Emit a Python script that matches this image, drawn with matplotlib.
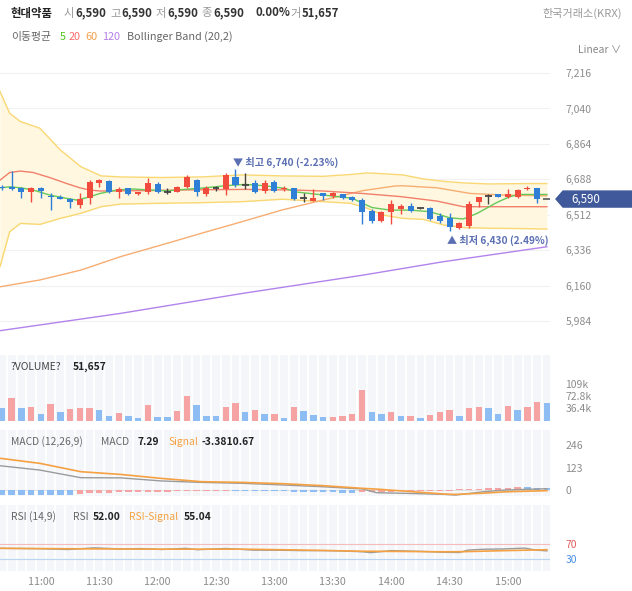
import matplotlib
matplotlib.use("Agg")
import matplotlib.pyplot as plt
import matplotlib.transforms as mtrans
from matplotlib.patches import Polygon
import numpy as np

plt.rcParams['font.family'] = ['Noto Sans CJK KR', 'DejaVu Sans']

W, H = 632, 591

# 5-minute candles, 10:40 ~ 15:20
opens  = [6650, 6651, 6643, 6623, 6643, 6606, 6600, 6589, 6560, 6594,
          6668, 6680, 6623, 6643, 6613, 6623, 6667, 6626, 6626, 6651,
          6684, 6613, 6646, 6640, 6701, 6660, 6668, 6631, 6676, 6640,
          6643, 6594, 6580, 6618, 6604, 6613, 6598, 6585, 6530, 6481,
          6524, 6540, 6557, 6544, 6547, 6507, 6497, 6448, 6457, 6574,
          6606, 6613, 6602, 6602, 6638, 6643, 6590]
highs  = [6660, 6729, 6648, 6648, 6648, 6618, 6612, 6595, 6618, 6683,
          6690, 6683, 6650, 6646, 6626, 6696, 6676, 6643, 6656, 6712,
          6690, 6656, 6656, 6717, 6740, 6720, 6684, 6684, 6684, 6656,
          6646, 6618, 6640, 6618, 6623, 6613, 6603, 6594, 6540, 6530,
          6585, 6564, 6569, 6547, 6552, 6519, 6519, 6478, 6580, 6602,
          6613, 6613, 6640, 6640, 6655, 6646, 6590]
lows   = [6635, 6635, 6594, 6577, 6594, 6535, 6588, 6545, 6545, 6564,
          6648, 6620, 6594, 6608, 6610, 6613, 6618, 6613, 6623, 6646,
          6603, 6603, 6630, 6612, 6651, 6640, 6618, 6618, 6626, 6630,
          6585, 6576, 6580, 6585, 6594, 6590, 6580, 6464, 6470, 6476,
          6466, 6514, 6527, 6540, 6484, 6469, 6430, 6441, 6446, 6552,
          6564, 6600, 6597, 6597, 6633, 6568, 6590]
closes = [6645, 6640, 6623, 6643, 6628, 6600, 6590, 6574, 6590, 6673,
          6684, 6626, 6640, 6613, 6623, 6671, 6626, 6626, 6651, 6701,
          6626, 6646, 6646, 6709, 6660, 6660, 6623, 6668, 6630, 6646,
          6590, 6594, 6594, 6606, 6618, 6594, 6585, 6527, 6481, 6524,
          6564, 6557, 6530, 6544, 6491, 6481, 6452, 6469, 6564, 6602,
          6606, 6602, 6613, 6635, 6643, 6590, 6590]

volumes = [36400, 65900, 39200, 42000, 20000, 48700, 26700, 34400, 37300, 39200,
           32400, 15200, 22900, 15200, 9500, 47800, 12400, 12400, 28700, 71700,
           47800, 14300, 14300, 42000, 52500, 26700, 31500, 21000, 20000, 9500,
           42000, 28700, 17200, 12400, 12400, 15200, 21000, 90800, 26700, 21000,
           26700, 13300, 15200, 9500, 17200, 26700, 31500, 15200, 37300, 42000,
           37300, 20000, 44700, 31500, 42000, 55300, 51657]
vol_dir = "brbrbrbrrrbbrbbrbbrrbbbrrbrbrbrbbbrrrrbbrbrbrrrbrrbbrbrrb"

# moving averages / bollinger band (x = candle index)
ma5_x = [-0.2, 0.8, 1.9, 3.2, 4.9, 6.6, 7.7, 8.7, 10.1, 11.8, 13.5, 15.2, 16.9, 19.3, 20.9,
         22.9, 25, 27, 29.1, 30.1, 32.5, 36, 38, 39.9, 42, 44, 46, 47.4, 48.8, 50.9, 52.2, 53.2, 56]
ma5 = [6646, 6651, 6646, 6635, 6610, 6594, 6585, 6597, 6618, 6635, 6640, 6635, 6631, 6640, 6646,
       6656, 6663, 6656, 6643, 6626, 6613, 6594, 6548, 6535, 6535, 6527, 6497, 6491, 6518, 6574,
       6602, 6613, 6613]
ma20_x = [-0.2, 0.8, 1.9, 3.2, 4.9, 6.6, 8, 9, 10.1, 15, 20, 25, 30, 33, 37, 41, 44.7, 47.4, 56]
ma20 = [6684, 6722, 6729, 6722, 6697, 6668, 6646, 6635, 6630, 6632, 6636, 6638, 6635, 6630,
        6618, 6602, 6580, 6552, 6552]
ma60_x = [-0.2, 3.9, 8.1, 12.2, 16.4, 20.5, 24.7, 28.8, 33, 37.1, 40.4, 41.2, 44.7, 48.1, 51.5, 56]
ma60 = [6154, 6188, 6237, 6304, 6362, 6420, 6478, 6536, 6585, 6632, 6655, 6656, 6646, 6618, 6610, 6606]
ma120_x = [-0.2, 12.2, 24.7, 37.1, 45.4, 56]
ma120 = [5936, 6022, 6121, 6212, 6279, 6353]

bb_x = [-0.2, 0.8, 1.9, 3.9, 6, 8.1, 10.2, 12.2, 16.4, 20.5, 24.7, 28.8, 33, 35.8, 37.5, 39.1,
        41.2, 43.3, 45.4, 47.5, 50, 53.8, 56]
bb_upper = [7124, 7016, 6975, 6942, 6834, 6751, 6705, 6700, 6697, 6700, 6710, 6705, 6703, 6712,
            6720, 6716, 6710, 6690, 6678, 6670, 6665, 6667, 6667]
bb_lower = [6254, 6428, 6469, 6464, 6494, 6519, 6552, 6565, 6569, 6572, 6577, 6589, 6577, 6569,
            6545, 6511, 6494, 6489, 6461, 6448, 6445, 6443, 6441]

# MACD
macd_x = [-0.2, 3.9, 8.1, 12.2, 16.4, 20.5, 24.7, 28.8, 33, 37.1, 38.5, 41.2, 45.4, 46.6, 49.6, 51.7, 56]
macd = [134, 110, 68, 67, 50, 42, 37, 28, 18, 5.5, -15, -18, -24, -28, -9, 0, 7.29]
signal = [175, 147, 101, 86, 64, 46, 42, 35, 24, 9, 5, -5.5, -22, -24, -17, -10, -3.38]
hist = [-30, -30, -29, -29, -28, -27, -27, -26,
        -20, -19, -18, -17, -13, -12, -11, -10, -9, -9, -7, -6, -6, -5, -5, -4,
        -4, -4, -5, -5, -6, -8, -9, -10, -11, -12, -13, -14, -14,
        -12, -11, -10, -9, -8, -7, -7, -6, -5, -4,
        3, 6, 8, 10, 12, 13, 15,
        14, 12, 10.67]
hist_dir = "b" * 8 + "r" * 16 + "b" * 13 + "r" * 17 + "b" * 3

# RSI
rsi_x = [-0.2, 3.9, 6.8, 9.5, 12.2, 14.3, 16.4, 18.9, 20.1, 23, 25.9, 28.8, 30.9, 33, 35, 37.1,
         37.9, 40, 43.3, 45.4, 47, 47.9, 49.5, 51.6, 53.7, 54.9, 56]
rsi = [58.7, 57.8, 55.6, 60, 57, 58, 55.6, 58.7, 55, 58.3, 54, 53.6, 52.7, 52.7, 51.8, 49.6,
       47.4, 52.7, 50.5, 48.3, 47.8, 54, 56.3, 57.1, 59.3, 54, 52]
rsi_sig_x = [-0.2, 8.1, 16.4, 24.7, 28.8, 33, 37.1, 41.2, 45.4, 47.5, 51.7, 56]
rsi_sig = [58.7, 57.4, 56.5, 56.5, 55, 53.2, 51, 50.5, 49.6, 50, 52.7, 55.04]

price_ticks = [5984, 6160, 6336, 6512, 6688, 6864, 7040, 7216]
vol_ticks = [36400, 72800, 109000]
vol_tick_labels = ['36.4k', '72.8k', '109k']
macd_ticks = [0, 123, 246]
time_ticks = [4, 10, 16, 22, 28, 34, 40, 46, 52]
time_labels = ['11:00', '11:30', '12:00', '12:30', '13:00', '13:30', '14:00', '14:30', '15:00']

RED = '#f04b3c'
BLUE = '#2f7fd6'
DOJI = '#444444'
LRED = '#f5a3a3'
LBLUE = '#8dbdf2'
TICK = '#8c8c8c'
XLIM = (-0.2, 56.32)

fig = plt.figure(figsize=(W / 100, H / 100), dpi=100)
fig.patch.set_facecolor('white')


def px_axes(x0, y0, x1, y1):
    return fig.add_axes([x0 / W, 1 - y1 / H, (x1 - x0) / W, (y1 - y0) / H])


def ftext(x, y, s, **kw):
    kw.setdefault('va', 'center')
    kw.setdefault('fontsize', 8)
    fig.text(x / W, 1 - y / H, s, **kw)


def clean(ax):
    for sp in ax.spines.values():
        sp.set_visible(False)
    ax.set_xlim(*XLIM)
    ax.yaxis.tick_right()
    ax.tick_params(axis='y', length=0, pad=11, labelsize=7.5, labelcolor=TICK)
    ax.tick_params(axis='x', length=0)
    ax.set_xticks([])


def striped(ax):
    ax.set_facecolor('#f4f6fa')
    for k in range(len(opens) + 1):
        ax.axvline(k - 0.5, color='white', lw=1.3, zorder=0.5)


# ---------------- main price chart
ax = px_axes(0, 62, 550, 350)
clean(ax)
ax.set_ylim(5840, 7271)
ax.set_yticks(price_ticks)
ax.set_yticklabels([f"{t:,}" for t in price_ticks])
ax.grid(axis='y', color='#f1f1f1', lw=0.8)
ax.set_axisbelow(True)

ax.fill_between(bb_x, bb_lower, bb_upper, color='#fff7df', zorder=1, lw=0)
ax.plot(bb_x, bb_upper, color='#f9d873', lw=1, zorder=1.5)
ax.plot(bb_x, bb_lower, color='#f9d873', lw=1, zorder=1.5)
ax.plot(ma120_x, ma120, color='#b383ec', lw=1, zorder=2)
ax.plot(ma60_x, ma60, color='#f7ad72', lw=1, zorder=2)
ax.plot(ma20_x, ma20, color='#f0806c', lw=1, zorder=2)
ax.plot(ma5_x, ma5, color='#66c95a', lw=1, zorder=2)

idx = np.arange(len(opens))
o = np.array(opens)
c = np.array(closes)
h = np.array(highs)
l = np.array(lows)
col = np.where(c > o, RED, np.where(c < o, BLUE, DOJI))
col[-1] = '#666666'
ax.vlines(idx, l, h, colors=col, lw=1, zorder=3)
body = c != o
ax.bar(idx[body], np.abs(c - o)[body], bottom=np.minimum(o, c)[body],
       width=0.62, color=col[body], zorder=4)
ax.hlines(c[~body], idx[~body] - 0.35, idx[~body] + 0.35, colors=col[~body], lw=1.3, zorder=4)

i_hi = int(np.argmax(h))
i_lo = int(np.argmin(l))
last = closes[-1]
ax.annotate(f"▼ 최고 {highs[i_hi]:,} ({(last / highs[i_hi] - 1) * 100:.2f}%)",
            xy=(i_hi, highs[i_hi]), xytext=(-2, 4.5), textcoords='offset points',
            ha='left', va='center', fontsize=7.3, color='#5b6fb3', fontweight='bold')
ax.annotate(f"▲ 최저 {lows[i_lo]:,} ({(last / lows[i_lo] - 1) * 100:.2f}%)",
            xy=(i_lo, lows[i_lo]), xytext=(-2, -6.5), textcoords='offset points',
            ha='left', va='center', fontsize=7.3, color='#5b6fb3', fontweight='bold')

# last price badge
bt = mtrans.blended_transform_factory(ax.transAxes, ax.transData)
hh = 8 * (7271 - 5840) / 288
badge = Polygon([(556 / 550, last), (563 / 550, last + hh), (632 / 550, last + hh),
                 (632 / 550, last - hh), (563 / 550, last - hh)],
                closed=True, transform=bt, clip_on=False, color='#40599b', zorder=5)
ax.add_patch(badge)
ax.text(571 / 550, last, f"{last:,}", transform=bt, color='white', fontsize=8.3,
        va='center', ha='left', zorder=6)

# ---------------- volume
axv = px_axes(0, 355, 550, 421)
clean(axv)
striped(axv)
axv.set_ylim(0, 192000)
axv.bar(idx, volumes, width=0.66, color=[LRED if d == 'r' else LBLUE for d in vol_dir], zorder=2)
axv.set_yticks(vol_ticks)
axv.set_yticklabels(vol_tick_labels)

# ---------------- MACD
axm = px_axes(0, 430, 550, 496)
clean(axm)
striped(axm)
axm.set_ylim(-33, 331)
axm.axhline(0, color='#e2e2e2', lw=0.8, zorder=1)
axm.bar(idx, hist, width=0.66, color=[LRED if d == 'r' else LBLUE for d in hist_dir], zorder=2)
axm.plot(macd_x, macd, color='#9b9b9b', lw=1, zorder=3)
axm.plot(macd_x, signal, color='#f5a142', lw=1.2, zorder=3)
axm.set_yticks(macd_ticks)

# ---------------- RSI
axr = px_axes(0, 505, 550, 571)
clean(axr)
striped(axr)
axr.set_ylim(-0.6, 172)
axr.axhline(70, color='#f6bcbc', lw=0.8, zorder=1)
axr.axhline(30, color='#bad5f4', lw=0.8, zorder=1)
axr.plot(rsi_x, rsi, color='#9b9b9b', lw=1, zorder=3)
axr.plot(rsi_sig_x, rsi_sig, color='#f5a142', lw=1.2, zorder=3)
axr.set_yticks([30, 70])
axr.set_yticklabels(['30', '70'])
for tl, cc in zip(axr.get_yticklabels(), ['#4a90e2', '#e05a5a']):
    tl.set_color(cc)
axr.set_xticks(time_ticks)
axr.set_xticklabels(time_labels)
axr.tick_params(axis='x', length=0, pad=4, labelsize=7.7, labelcolor=TICK)

# ---------------- header texts
ftext(11, 13, '현대약품', color='#222222', fontweight='bold', fontsize=8.2)
for x, s, bold in [(64, '시', False), (75, '6,590', True), (110.5, '고', False), (121, '6,590', True),
                   (156, '저', False), (167, '6,590', True), (201, '종', False), (213, '6,590', True),
                   (255, '0.00%', True), (290.5, '거', False), (302, '51,657', True)]:
    ftext(x, 13, s, color='#333333' if bold else '#9a9a9a',
          fontweight='bold' if bold else 'normal', fontsize=8.2)
ftext(622, 13, '한국거래소(KRX)', color='#9a9a9a', ha='right', fontsize=8)

ftext(11, 37, '이동평균', color='#666666', fontsize=7.8)
ftext(60, 37, '5', color='#52c41a', fontsize=7.8)
ftext(69, 37, '20', color='#ff6b6b', fontsize=7.8)
ftext(85, 37, '60', color='#f5a04a', fontsize=7.8)
ftext(102, 37, '120', color='#b37feb', fontsize=7.8)
ftext(127, 37, 'Bollinger Band (20,2)', color='#666666', fontsize=7.8)
ftext(621, 50, 'Linear ∨', color='#888888', ha='right', fontsize=7.5)

ftext(11, 367, '?VOLUME?', color='#444444', fontsize=7.4)
ftext(72.5, 367, f"{volumes[-1]:,}", color='#222222', fontweight='bold', fontsize=7.4)

ftext(11, 442, 'MACD (12,26,9)', color='#666666', fontsize=7.4)
ftext(101.5, 442, 'MACD', color='#666666', fontsize=7.4)
ftext(138, 442, '7.29', color='#222222', fontweight='bold', fontsize=7.4)
ftext(168.5, 442, 'Signal', color='#f5a142', fontsize=7.4)
ftext(202, 442, '-3.3810.67', color='#222222', fontweight='bold', fontsize=7.4)

ftext(11, 517, 'RSI (14,9)', color='#666666', fontsize=7.4)
ftext(72.5, 517, 'RSI', color='#666666', fontsize=7.4)
ftext(92.5, 517, '52.00', color='#222222', fontweight='bold', fontsize=7.4)
ftext(129, 517, 'RSI-Signal', color='#f5a142', fontsize=7.4)
ftext(183.5, 517, '55.04', color='#222222', fontweight='bold', fontsize=7.4)

fig.savefig('out.png', dpi=100, facecolor='white')
